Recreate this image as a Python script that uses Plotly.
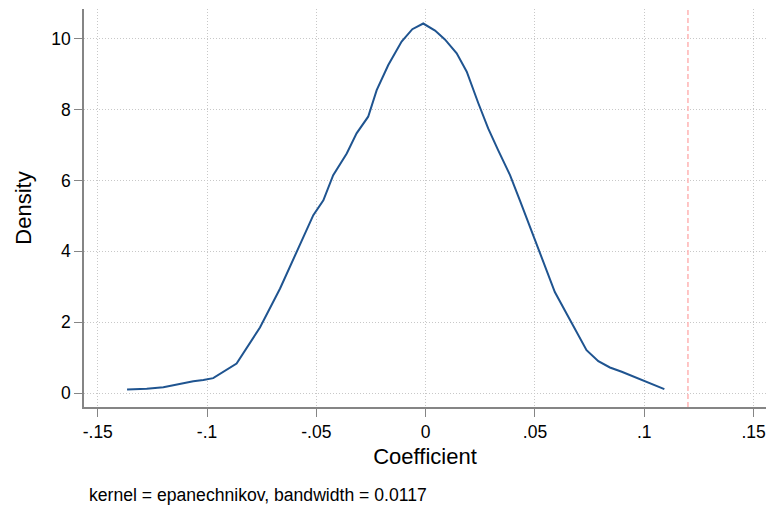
import plotly.graph_objects as go

# Kernel density estimate of the coefficient (evaluation points and density)
coef = [-0.1366, -0.1276, -0.1200, -0.1139, -0.1063, -0.1017, -0.0972, -0.0865,
        -0.0811, -0.0758, -0.0666, -0.0590, -0.0514, -0.0468, -0.0423, -0.0361,
        -0.0316, -0.0263, -0.0224, -0.0171, -0.0110, -0.0061, -0.0011, 0.0043,
        0.0088, 0.0142, 0.0188, 0.0241, 0.0286, 0.0332, 0.0386, 0.0431,
        0.0508, 0.0591, 0.0645, 0.0736, 0.0790, 0.0843, 0.0897, 0.1003, 0.1092]
density = [0.10, 0.12, 0.16, 0.24, 0.33, 0.37, 0.42, 0.83,
           1.35, 1.85, 2.95, 3.98, 5.02, 5.44, 6.15, 6.76,
           7.33, 7.80, 8.55, 9.26, 9.92, 10.27, 10.43, 10.23,
           9.98, 9.59, 9.07, 8.18, 7.47, 6.85, 6.15, 5.44,
           4.22, 2.85, 2.24, 1.21, 0.90, 0.72, 0.60, 0.33, 0.11]

# Reference value marked with a vertical line
ref_value = 0.12

x_ticks = [-0.15, -0.1, -0.05, 0, 0.05, 0.1, 0.15]
x_labels = ["-.15", "-.1", "-.05", "0", ".05", ".1", ".15"]
y_ticks = [0, 2, 4, 6, 8, 10]

note = "kernel = epanechnikov, bandwidth = 0.0117"

FONT = "Liberation Sans, Arial, Helvetica, sans-serif"
AXIS_GRAY = "#858585"
GRID = "#c8c8c8"

fig = go.Figure()
fig.add_trace(go.Scatter(
    x=coef, y=density, mode="lines",
    line=dict(color="#1f5490", width=2),
    showlegend=False, hoverinfo="skip",
))

fig.add_shape(
    type="line", xref="x", yref="paper",
    x0=ref_value, x1=ref_value, y0=0, y1=1,
    line=dict(color="#ffb3b3", width=1.5, dash="5px,3px"),
    layer="above",
)

fig.update_layout(
    width=770, height=508,
    margin=dict(l=84, r=4, t=9, b=101),
    paper_bgcolor="white", plot_bgcolor="white",
    font=dict(family=FONT, color="#000000", size=17.5),
    annotations=[dict(
        text=note, xref="paper", yref="paper",
        x=0.005, y=-0.221, xanchor="left", yanchor="middle",
        showarrow=False, font=dict(size=17.6, family=FONT),
    )],
)

fig.update_xaxes(
    range=[-0.1563, 0.1557],
    tickvals=x_ticks, ticktext=x_labels,
    showline=True, linecolor=AXIS_GRAY, linewidth=1.5,
    ticks="outside", ticklen=8, tickwidth=1.2, tickcolor=AXIS_GRAY,
    showgrid=True, gridcolor=GRID, griddash="1px,2px", gridwidth=1,
    zeroline=False, tickfont=dict(size=17.5),
    title=dict(text="Coefficient", font=dict(size=22), standoff=8),
)

fig.update_yaxes(
    range=[-0.395, 10.84],
    tickvals=y_ticks,
    showline=True, linecolor=AXIS_GRAY, linewidth=1.5,
    ticks="outside", ticklen=8, tickwidth=1.2, tickcolor=AXIS_GRAY,
    showgrid=True, gridcolor=GRID, griddash="1px,2px", gridwidth=1,
    zeroline=False, tickfont=dict(size=17.5),
    title=dict(text="Density", font=dict(size=22), standoff=14),
)

fig.write_html("out.html")
